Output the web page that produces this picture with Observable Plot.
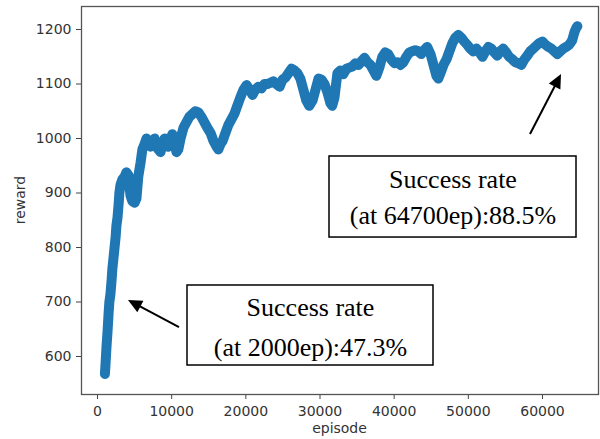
<!DOCTYPE html>
<html><head><meta charset="utf-8">
<script src="https://cdn.jsdelivr.net/npm/d3@7"></script>
<script src="https://cdn.jsdelivr.net/npm/@observablehq/plot@0.6"></script>
<style>body{margin:0;background:#fff}#chart{width:600px;height:439px}</style>
</head><body><div id="chart"></div>
<script>
const episodes = [1000,1100,1200,1350,1500,1600,1750,1900,2000,2150,2300,2450,2550,2700,2850,2950,3100,3350,3650,3900,4200,4300,4450,4700,5000,5250,5500,5800,6050,6350,6600,6850,7150,7400,7700,7950,8200,8500,8750,9050,9300,9550,9850,10100,10400,10650,10900,11200,11600,12000,12400,12800,13200,13600,14000,14400,14800,15250,15650,16050,16300,16600,16850,17250,17650,18050,18450,18850,19250,19700,20100,20500,20900,21300,21700,22100,22500,22900,23300,23700,24100,24550,24950,25350,25750,26150,26550,26950,27350,27750,28150,28550,29000,29400,29800,30200,30600,31000,31400,31650,31950,32350,32750,33150,33550,33950,34350,34750,35200,35600,36000,36400,36800,37200,37600,38000,38400,38800,39200,39600,40050,40450,40850,41250,41650,42050,42450,42850,43250,43650,44050,44450,44900,45300,45700,45950,46250,46650,47050,47450,47850,48250,48650,49050,49450,49850,50250,50650,51100,51500,51900,52300,52700,53100,53500,53900,54300,54700,55100,55500,55950,56350,56750,57150,57550,57950,58350,58750,59150,59550,60000,60400,60800,61200,61600,62000,62400,62800,63200,63600,64000,64300,64550,64700];
const rewards = [568,590,615,645,680,700,715,740,760,780,800,820,840,855,880,900,915,925,930,938,932,915,895,885,882,890,930,955,980,990,1000,995,985,990,1000,985,980,975,990,1000,995,985,1000,1008,990,975,980,1000,1020,1030,1040,1045,1050,1048,1040,1030,1020,1010,995,985,980,990,995,1010,1025,1035,1045,1060,1075,1090,1098,1090,1080,1090,1095,1092,1100,1100,1102,1105,1100,1095,1108,1112,1120,1128,1125,1120,1110,1090,1070,1060,1070,1090,1110,1108,1100,1085,1065,1060,1075,1120,1125,1118,1128,1130,1132,1138,1135,1142,1148,1140,1135,1125,1115,1130,1150,1158,1155,1145,1138,1140,1135,1140,1150,1158,1160,1162,1160,1155,1162,1168,1155,1135,1115,1110,1120,1135,1145,1160,1175,1185,1190,1185,1178,1172,1165,1160,1165,1158,1150,1160,1168,1165,1158,1152,1160,1165,1158,1150,1145,1140,1138,1135,1145,1152,1160,1165,1170,1175,1178,1172,1168,1165,1160,1155,1160,1165,1168,1172,1180,1195,1203,1206];
const xTicks = [0,10000,20000,30000,40000,50000,60000];
const yTicks = [600,700,800,900,1000,1100,1200];
const xDomain = [-2157, 67550];
const yDomain = [530.3, 1242.2];
const boxX1 = [12135, 31281];
const boxX2 = [45303, 64584];
const boxY1 = [583.5, 818.3];
const boxY2 = [730.3, 967.0];
const noteText = ["Success rate", "(at 2000ep):47.3%", "Success rate", "(at 64700ep):88.5%"];
const noteX = [28719, 28719, 47933, 47933];
const noteY = [674.3, 601.8, 910.1, 844.0];
const arrowTailX = [11056, 58382];
const arrowTailY = [653.2, 1007.3];
const arrowTipX = [4180, 62562];
const arrowTipY = [702.8, 1117.4];

const series = episodes.map((e, i) => ({episode: e, reward: rewards[i]}));
const boxes = boxX1.map((_, i) => ({x1: boxX1[i], x2: boxX2[i], y1: boxY1[i], y2: boxY2[i]}));
const notes = noteText.map((t, i) => ({text: t, x: noteX[i], y: noteY[i]}));

const chart = Plot.plot({
  width: 600, height: 439,
  marginLeft: 81, marginRight: 2, marginTop: 6, marginBottom: 45,
  style: {fontFamily: "DejaVu Sans", fontSize: "14px", color: "#333", background: "white"},
  x: {domain: xDomain},
  y: {domain: yDomain},
  marks: [
    Plot.line(series, {x: "episode", y: "reward", stroke: "#1f77b4", strokeWidth: 10, strokeLinecap: "round", strokeLinejoin: "round"}),
    Plot.axisX({ticks: xTicks, tickSize: 5, tickPadding: 7, tickFormat: d3.format("d"), label: null, stroke: "#444"}),
    Plot.axisY({ticks: yTicks, tickSize: 5, tickPadding: 5, tickFormat: d3.format("d"), label: null, stroke: "#444"}),
    Plot.frame({stroke: "#555", strokeWidth: 1.3}),
    Plot.rect(boxes, {x1: "x1", x2: "x2", y1: "y1", y2: "y2", fill: "white", stroke: "black", strokeWidth: 1.5}),
    Plot.text(notes, {x: "x", y: "y", text: "text", fontFamily: "Liberation Serif", fontSize: 26, lineAnchor: "bottom", fill: "black"})
  ]
});
document.getElementById("chart").appendChild(chart);

const svg = d3.select(chart);
const sx = chart.scale("x"), sy = chart.scale("y");
const g = svg.append("g");
for (let i = 0; i < arrowTipX.length; i++) {
  const sxp = sx.apply(arrowTailX[i]), syp = sy.apply(arrowTailY[i]);
  const tx = sx.apply(arrowTipX[i]), ty = sy.apply(arrowTipY[i]);
  const len = Math.hypot(tx - sxp, ty - syp);
  const ux = (tx - sxp) / len, uy = (ty - syp) / len;
  const L = 14, W = 6.5;
  const bx = tx - L * ux, by = ty - L * uy;
  g.append("line").attr("x1", sxp).attr("y1", syp).attr("x2", bx + 2 * ux).attr("y2", by + 2 * uy)
    .attr("stroke", "black").attr("stroke-width", 2);
  g.append("path").attr("d", `M${tx},${ty}L${bx - W * uy},${by + W * ux}L${bx + W * uy},${by - W * ux}Z`).attr("fill", "black");
}
// axis titles
svg.append("text").attr("transform", `translate(25,${(6 + 394) / 2}) rotate(-90)`).attr("text-anchor", "middle")
  .attr("fill", "#333").attr("font-family", "DejaVu Sans").attr("font-size", 14).text("reward");
svg.append("text").attr("x", (81 + 598) / 2).attr("y", 433).attr("text-anchor", "middle")
  .attr("fill", "#333").attr("font-family", "DejaVu Sans").attr("font-size", 14).text("episode");
</script>
</body></html>
